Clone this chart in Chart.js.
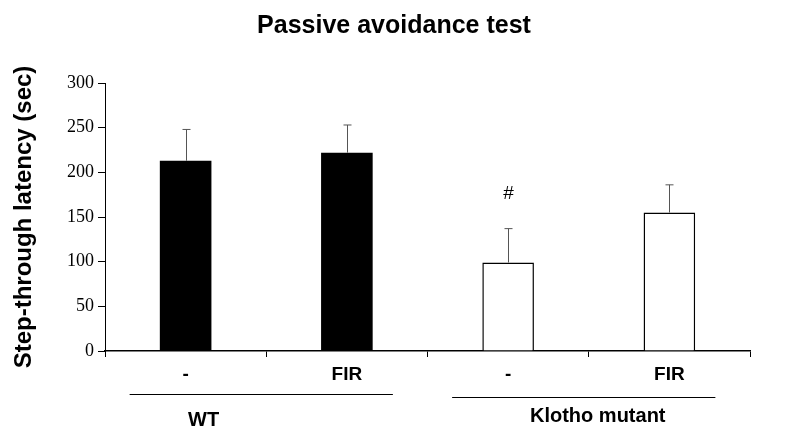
<!DOCTYPE html>
<html>
<head>
<meta charset="utf-8">
<script src="https://cdn.jsdelivr.net/npm/chart.js@4/dist/chart.umd.min.js"></script>
<style>
  html, body { margin: 0; padding: 0; background: #fff; }
  #wrap { width: 786px; height: 444px; }
</style>
</head>
<body>
<div id="wrap"><canvas id="chart"></canvas></div>
<script>
// data
const chartTitle = "Passive avoidance test";
const categories = ["-", "FIR", "-", "FIR"];
const latency = [213, 222, 99, 155];
const sem = [35, 31, 38, 31];
const marks = ["", "", "#", ""];
const groups = [
  { label: "WT", from: 0, to: 1 },
  { label: "Klotho mutant", from: 2, to: 3 },
];
const yTicks = [0, 50, 100, 150, 200, 250, 300];

// upper error bars plus the # mark
const errorBars = {
  id: "errorBars",
  afterDatasetsDraw(chart) {
    const { ctx, scales: { x, y } } = chart;
    ctx.save();
    ctx.strokeStyle = "#555";
    ctx.lineWidth = 1;
    latency.forEach((v, i) => {
      const px = Math.round(x.getPixelForValue(i)) + 0.5;
      const top = y.getPixelForValue(v + sem[i]);
      const base = y.getPixelForValue(v);
      ctx.beginPath();
      ctx.moveTo(px, base);
      ctx.lineTo(px, top);
      ctx.moveTo(px - 4, top);
      ctx.lineTo(px + 4, top);
      ctx.stroke();
      if (marks[i]) {
        ctx.fillStyle = "#000";
        ctx.font = "19px 'Liberation Sans', Arial, sans-serif";
        ctx.textAlign = "center";
        ctx.textBaseline = "middle";
        ctx.fillText(marks[i], px, top - 35);
      }
    });
    ctx.restore();
  },
};

// title (centred on the whole picture) plus group lines and names
const labelsPlugin = {
  id: "labelsPlugin",
  afterDraw(chart) {
    const { ctx, chartArea, scales: { x } } = chart;
    ctx.save();
    ctx.fillStyle = "#000";
    ctx.textAlign = "center";
    ctx.textBaseline = "middle";
    ctx.font = "bold 25px 'Liberation Sans', Arial, sans-serif";
    ctx.fillText(chartTitle, chart.width / 2 + 1, 26);

    ctx.strokeStyle = "#000";
    ctx.lineWidth = 1;
    ctx.font = "bold 20px 'Liberation Sans', Arial, sans-serif";
    groups.forEach((g, i) => {
      const x0 = x.getPixelForValue(g.from) - 56;
      const x1 = x.getPixelForValue(g.to) + 46;
      const ly = Math.round(chartArea.bottom + 43 + i * 3) + 0.5;
      ctx.beginPath();
      ctx.moveTo(x0, ly);
      ctx.lineTo(x1, ly);
      ctx.stroke();
      const tx = i === 0 ? x.getPixelForValue(g.from) + 18 : (x0 + x1) / 2 + 14;
      ctx.fillText(g.label, tx, chartArea.bottom + (i === 0 ? 69 : 65));
    });
    ctx.restore();
  },
};

new Chart(document.getElementById("chart"), {
  type: "bar",
  data: {
    labels: categories,
    datasets: [
      {
        data: latency,
        backgroundColor: ["#000", "#000", "#fff", "#fff"],
        borderColor: "#000",
        borderWidth: [0, 0, 1.5, 1.5],
        barPercentage: 0.32,
        categoryPercentage: 1,
      },
    ],
  },
  options: {
    responsive: true,
    maintainAspectRatio: false,
    animation: false,
    layout: { padding: { left: 8, right: 36, top: 83, bottom: 0 } },
    plugins: {
      legend: { display: false },
      tooltip: { enabled: false },
      title: { display: false },
    },
    scales: {
      x: {
        grid: { display: true, drawOnChartArea: false, drawTicks: true, tickLength: 6, color: "#000", offset: true },
        border: { color: "#000", width: 1.5 },
        ticks: {
          color: "#000",
          padding: 6,
          font: { family: "'Liberation Sans', Arial, sans-serif", size: 19, weight: "bold" },
        },
        afterFit(scale) { scale.height = 93; },
      },
      y: {
        min: 0,
        max: 300,
        afterBuildTicks(scale) { scale.ticks = yTicks.map((v) => ({ value: v })); },
        grid: { drawOnChartArea: false, drawTicks: true, tickLength: 7, color: "#000" },
        border: { color: "#000", width: 1 },
        ticks: {
          color: "#000",
          padding: 4,
          font: { family: "'Liberation Serif', 'Times New Roman', serif", size: 18 },
        },
        title: {
          display: true,
          text: "Step-through latency (sec)",
          color: "#000",
          padding: { top: 2, bottom: 4 },
          font: { family: "'Liberation Sans', Arial, sans-serif", size: 24, weight: "bold" },
        },
        afterFit(scale) { scale.width = 97; },
      },
    },
  },
  plugins: [errorBars, labelsPlugin],
});
</script>
</body>
</html>
